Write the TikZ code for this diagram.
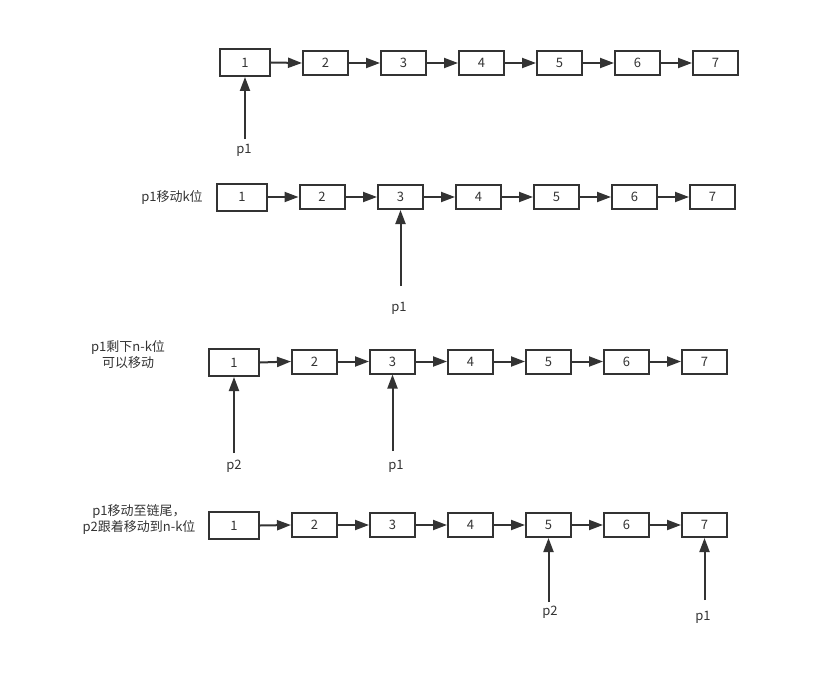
\documentclass[tikz,border=0pt]{standalone}
\usepackage{fontspec}
\setmainfont{Noto Sans CJK SC}
\usetikzlibrary{arrows.meta}
\definecolor{ink}{HTML}{333333}
\tikzset{
  cell/.style={draw=ink, line width=2pt, minimum width=45pt, minimum height=24pt, inner sep=0pt, text=ink, font=\fontsize{13}{14}\selectfont},
  headcell/.style={cell, minimum width=50pt, minimum height=27pt},
  link/.style={draw=ink, line width=2pt, -{Triangle[length=14pt,width=10pt]}},
  lbl/.style={text=ink, font=\fontsize{13}{16}\selectfont, inner sep=0pt, align=center}
}
\begin{document}
\begin{tikzpicture}[x=1pt,y=-1pt]
\useasboundingbox (0,0) rectangle (816,682);
% row 1
\node[headcell] (a1) at (245,62.5) {1};
\node[cell] (a2) at (325.5,63) {2};
\node[cell] (a3) at (403.5,63) {3};
\node[cell] (a4) at (481.5,63) {4};
\node[cell] (a5) at (559.5,63) {5};
\node[cell] (a6) at (637.5,63) {6};
\node[cell] (a7) at (715.5,63) {7};
% row 2
\node[headcell] (b1) at (242,197) {1};
\node[cell] (b2) at (322,197) {2};
\node[cell] (b3) at (400.5,197) {3};
\node[cell] (b4) at (478.5,197) {4};
\node[cell] (b5) at (556.5,197) {5};
\node[cell] (b6) at (634.5,197) {6};
\node[cell] (b7) at (712.5,197) {7};
% row 3
\node[headcell] (c1) at (234,362.5) {1};
\node[cell] (c2) at (314.5,361.5) {2};
\node[cell] (c3) at (392.5,361.5) {3};
\node[cell] (c4) at (470.5,361.5) {4};
\node[cell] (c5) at (548.5,361.5) {5};
\node[cell] (c6) at (626.5,361.5) {6};
\node[cell] (c7) at (704.5,361.5) {7};
% row 4
\node[headcell] (d1) at (234,525.5) {1};
\node[cell] (d2) at (314.5,525) {2};
\node[cell] (d3) at (392.5,525) {3};
\node[cell] (d4) at (470.5,525) {4};
\node[cell] (d5) at (548.5,525) {5};
\node[cell] (d6) at (626.5,525) {6};
\node[cell] (d7) at (704.5,525) {7};
\foreach \r in {a,b,c,d}{
  \foreach \i [evaluate=\i as \j using int(\i+1)] in {1,...,6}{
    \draw[link] (\r\i.east) -- (\r\j.west);
  }
}
% pointer arrows
\coordinate (pa) at (245,139);
\draw[link] (pa) -- (a1.south);
\node[lbl] (la) at (244,150) {p1};
\coordinate (pb) at (400.5,286);
\draw[link] (pb) -- (b3.south);
\node[lbl] (lb) at (399,308) {p1};
\coordinate (pc2) at (234,453);
\draw[link] (pc2) -- (c1.south);
\node[lbl] (lc2) at (234,466) {p2};
\coordinate (pc1) at (392.5,451);
\draw[link] (pc1) -- (c3.south);
\node[lbl] (lc1) at (396,466) {p1};
\coordinate (pd2) at (548.5,602);
\draw[link] (pd2) -- (d5.south);
\node[lbl] (ld2) at (550,612) {p2};
\coordinate (pd1) at (704.5,600);
\draw[link] (pd1) -- (d7.south);
\node[lbl] (ld1) at (703,617) {p1};
% side labels
\node[lbl] (sb) at (172,197) {p1移动k位};
\node[lbl] (sc) at (128,355) {p1剩下n-k位\\可以移动};
\node[lbl] (sd) at (139,520) {p1移动至链尾，\\p2跟着移动到n-k位};
\end{tikzpicture}
\end{document}
